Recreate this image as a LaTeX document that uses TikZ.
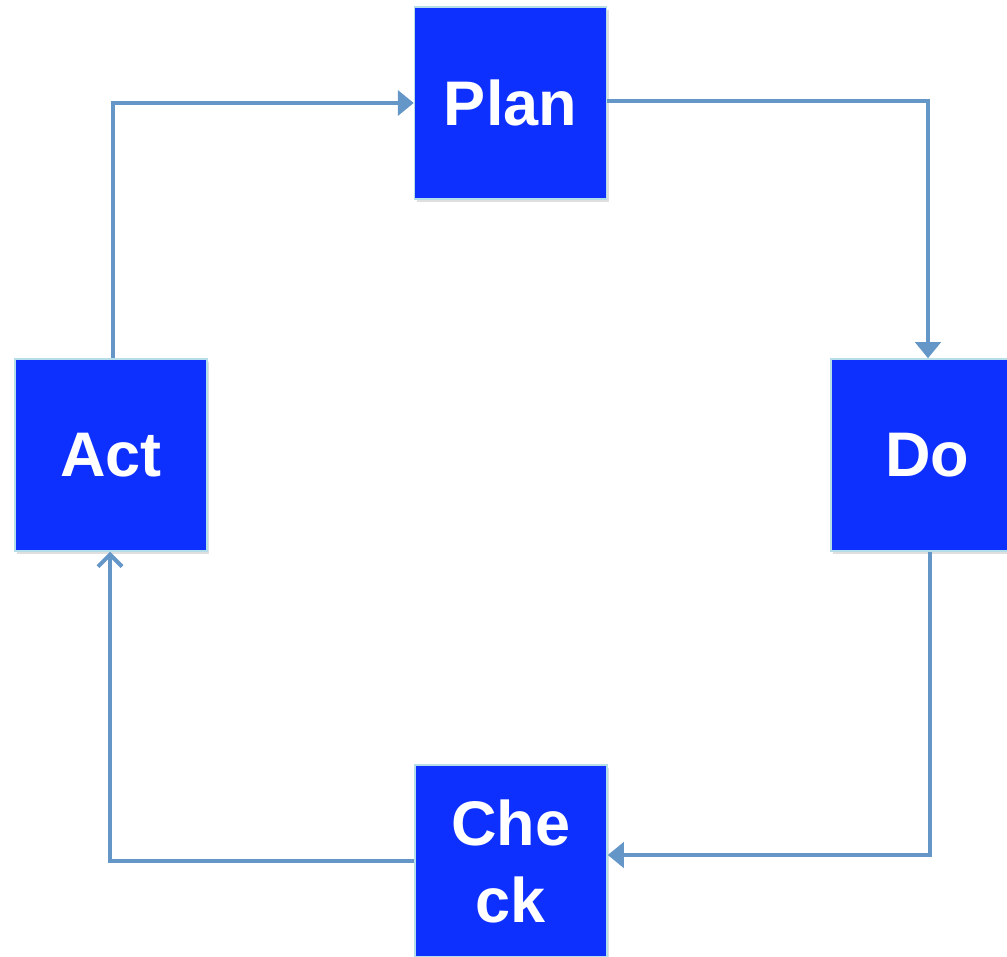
\documentclass[tikz,border=0pt]{standalone}
\usepackage{fontspec}
\setmainfont{Liberation Sans}
\usetikzlibrary{arrows.meta,shadows}
\definecolor{boxblue}{RGB}{14,48,255}
\definecolor{boxedge}{RGB}{182,222,232}
\definecolor{linkblue}{RGB}{100,150,200}
\begin{document}
\begin{tikzpicture}[x=1pt,y=-1pt,
  box/.style={draw=boxedge, line width=1.5pt, fill=boxblue, minimum size=192pt, inner sep=0pt,
    text=white, align=center, font={\fontsize{63}{77}\selectfont\bfseries},
    drop shadow={opacity=0.25, shadow xshift=2pt, shadow yshift=-3pt}},
  link/.style={draw=linkblue, line width=4pt, -{Triangle[width=25pt,length=16pt]}},
  linkopen/.style={draw=linkblue, line width=4pt, -{Straight Barb[width=24pt,length=12pt,line width=4pt]}}]
\useasboundingbox (0,0) rectangle (1007,957);
\node[box] (plan) at (510.5,103) {Plan};
\node[box] (do) at (927,455) {Do};
\node[box] (check) at (511,861) {Che\\ck};
\node[box] (act) at (111,455) {Act};
\draw[link] ([xshift=2pt]act.north) |- (plan.west);
\draw[link] ([yshift=2pt]plan.east) -| ([xshift=1pt]do.north);
\draw[link] ([xshift=3pt]do.south) |- ([yshift=6pt]check.east);
\draw[linkopen] (check.west) -| ([xshift=-1pt]act.south);
\end{tikzpicture}
\end{document}
